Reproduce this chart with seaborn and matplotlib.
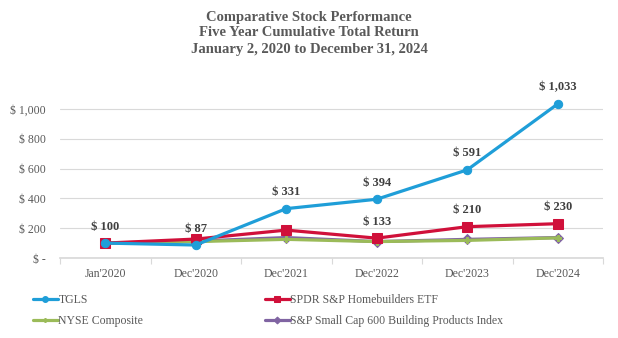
import matplotlib
matplotlib.use("Agg")
import matplotlib.pyplot as plt
import seaborn as sns
import pandas as pd
import numpy as np

categories = ["Jan'2020", "Dec'2020", "Dec'2021", "Dec'2022", "Dec'2023", "Dec'2024"]
tgls = [100, 87, 331, 394, 591, 1033]
spdr = [100, 127, 187, 133, 210, 230]
nyse = [100, 110, 125, 110, 118, 135]
sp600 = [100, 113, 137, 110, 125, 137]
series_names = ["TGLS", "SPDR S&P Homebuilders ETF", "NYSE Composite",
                "S&P Small Cap 600 Building Products Index"]
tgls_labels = ["$ 100", "$ 87", "$ 331", "$ 394", "$ 591", "$ 1,033"]
spdr_labels = [None, None, None, "$ 133", "$ 210", "$ 230"]
yticks = [0, 200, 400, 600, 800, 1000]
ytick_labels = ["$ -", "$ 200", "$ 400", "$ 600", "$ 800", "$ 1,000"]

sns.set_theme(style="white")
plt.rcParams['font.family'] = ['Liberation Serif', 'DejaVu Serif']

colors = ["#1F9ED8", "#D0103A", "#9BBB59", "#8064A2"]
markers = ["o", "s", "P", "D"]
msizes = [6, 7, 4, 5]

pos = np.arange(len(categories))
fig = plt.figure(figsize=(6.18, 3.38), dpi=100)
ax = fig.add_axes([60/618, 1-258/338, 543/618, 176/338])

data = [tgls, spdr, nyse, sp600]
order = [2, 3, 1, 0]
for i in order:
    df = pd.DataFrame({"x": pos, "y": data[i]})
    sns.lineplot(data=df, x="x", y="y", ax=ax, color=colors[i], marker=markers[i],
                 markersize=msizes[i], linewidth=2.3,
                 label=series_names[i], zorder=3 + (3 - i), clip_on=False)
for ln in ax.lines:
    ln.set_markeredgecolor(ln.get_color())
    ln.set_markerfacecolor(ln.get_color())

for i, lab in enumerate(tgls_labels):
    ax.annotate(lab, (pos[i], tgls[i]), xytext=(0, 7.5), textcoords="offset points",
                ha="center", va="bottom", fontsize=9, fontweight="bold", color="#404040")
for i, lab in enumerate(spdr_labels):
    if lab:
        ax.annotate(lab, (pos[i], spdr[i]), xytext=(0, 7.5), textcoords="offset points",
                    ha="center", va="bottom", fontsize=9, fontweight="bold", color="#404040")

ax.set_xlim(-0.5, len(categories) - 0.5)
ax.set_ylim(0, 1180)
ax.set_yticks(yticks)
ax.set_yticklabels(ytick_labels)
ax.set_xticks(pos)
ax.set_xticklabels(categories)
ax.set_xticks(np.arange(-0.5, len(categories)), minor=True)
ax.tick_params(axis="x", which="major", length=0, pad=7, labelsize=8.5, labelcolor="#595959")
ax.tick_params(axis="x", which="minor", length=4, direction="out", color="#D9D9D9", width=0.8, bottom=True)
ax.tick_params(axis="y", length=0, pad=10, labelsize=8.5, labelcolor="#595959")
ax.grid(axis="y", color="#D9D9D9", linewidth=0.8)
ax.set_axisbelow(True)
for s in ["top", "right", "left"]:
    ax.spines[s].set_visible(False)
ax.spines["bottom"].set_color("#D9D9D9")
ax.set_xlabel("")
ax.set_ylabel("")

handles, labels = ax.get_legend_handles_labels()
hmap = dict(zip(labels, handles))
for h, c in zip([hmap[n] for n in series_names], colors):
    h.set_markeredgecolor(c)
    h.set_markerfacecolor(c)
leg_order = [series_names[0], series_names[2], series_names[1], series_names[3]]
ax.get_legend().remove()
fig.legend([hmap[n] for n in leg_order], leg_order, loc="upper left",
           bbox_to_anchor=(33/618, 1-294/338),
           ncol=2, frameon=False, fontsize=8.5, handlelength=2.1, handletextpad=0.05,
           columnspacing=10.3, labelspacing=0.8, labelcolor="#595959",
           borderaxespad=0, borderpad=0, markerscale=0.7)

fig.text(0.5, 1-33/338, "Comparative Stock Performance\nFive Year Cumulative Total Return\nJanuary 2, 2020 to December 31, 2024",
         ha="center", va="center", fontsize=10.5, fontweight="bold", color="#595959",
         linespacing=1.3)

fig.savefig("out.png", dpi=100)
